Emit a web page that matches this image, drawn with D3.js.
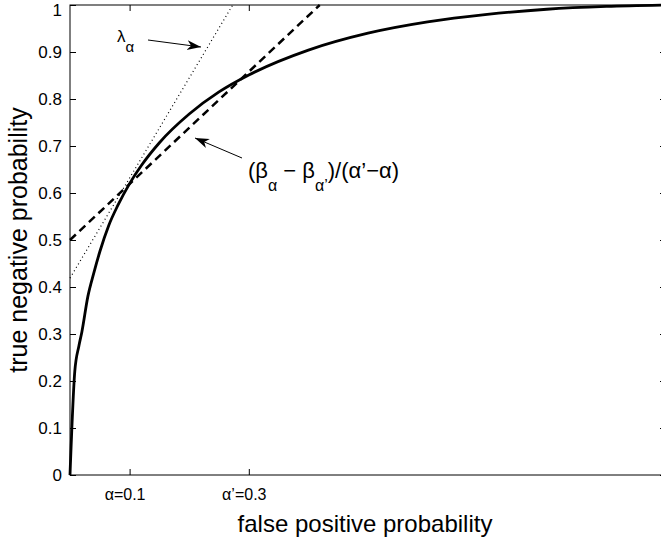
<!DOCTYPE html>
<html>
<head>
<meta charset="utf-8">
<script src="https://cdn.jsdelivr.net/npm/d3@7"></script>
<style>
  body { margin: 0; background: #fff; }
  text { font-family: "Liberation Sans", Arial, Helvetica, sans-serif; }
</style>
</head>
<body>
<div id="chart"></div>
<script>
// ROC curve samples (false positive prob -> true negative prob)
const fpr = [0, 0.008, 0.015, 0.02, 0.03, 0.04, 0.05, 0.065, 0.08, 0.1, 0.12, 0.15, 0.2, 0.25, 0.3, 0.4, 0.5, 0.6, 0.7, 0.8, 0.9, 1];
const tnr = [0, 0.22, 0.275, 0.305, 0.38, 0.43, 0.475, 0.531, 0.573, 0.62, 0.659, 0.707, 0.768, 0.815, 0.851, 0.904, 0.94, 0.964, 0.98, 0.991, 0.997, 1];

// chord between alpha and alpha' (dashed) and tangent at alpha (dotted)
const chordLine = [[0, 0.5], [0.419, 1]];
const tangentLine = [[0, 0.419], [0.273, 1]];

const yTicks = [0, 0.1, 0.2, 0.3, 0.4, 0.5, 0.6, 0.7, 0.8, 0.9, 1];
const xTicks = [0.1, 0.3];
const xTickLabels = ["α=0.1", "α’=0.3"];

const width = 661, height = 542;
const mLeft = 70, mRight = 666, mTop = 5, mBottom = 475;

const svg = d3.select("#chart").append("svg")
  .attr("width", width)
  .attr("height", height);

const x = d3.scaleLinear().domain([0, 1]).range([mLeft, mRight]);
const y = d3.scaleLinear().domain([0, 1]).range([mBottom, mTop]);

// arrow head
svg.append("defs").append("marker")
  .attr("id", "arrow")
  .attr("markerUnits", "userSpaceOnUse")
  .attr("markerWidth", 16).attr("markerHeight", 12)
  .attr("refX", 14).attr("refY", 6)
  .attr("orient", "auto")
  .append("path")
  .attr("d", "M0,1 L14,6 L0,11 L4,6 Z")
  .attr("fill", "#000");

// axes (ticks inward, box around)
svg.append("g")
  .attr("transform", `translate(${mLeft},0)`)
  .call(d3.axisLeft(y).tickValues(yTicks).tickFormat(d3.format("~g"))
    .tickSizeInner(-6).tickSizeOuter(0).tickPadding(8))
  .call(g => g.select(".domain").remove())
  .selectAll("text")
  .style("font-size", "17px").attr("fill", "#000")
  .attr("dy", d => d === 1 ? "0.62em" : "0.32em");

svg.append("g")
  .attr("transform", `translate(${mRight},0)`)
  .call(d3.axisRight(y).tickValues(yTicks).tickFormat("").tickSizeInner(-6).tickSizeOuter(0))
  .call(g => g.select(".domain").remove());

svg.append("g")
  .attr("transform", `translate(0,${mBottom})`)
  .call(d3.axisBottom(x).tickValues(xTicks).tickFormat((d, i) => xTickLabels[i])
    .tickSizeInner(-6).tickSizeOuter(0).tickPadding(14))
  .call(g => g.select(".domain").remove())
  .selectAll("text").style("font-size", "16px").attr("fill", "#000").attr("dx", "-5");

svg.append("g")
  .attr("transform", `translate(0,${mTop})`)
  .call(d3.axisTop(x).tickValues(xTicks).tickFormat("").tickSizeInner(-6).tickSizeOuter(0))
  .call(g => g.select(".domain").remove());

svg.append("rect")
  .attr("x", mLeft).attr("y", mTop)
  .attr("width", mRight - mLeft).attr("height", mBottom - mTop)
  .attr("fill", "none").attr("stroke", "#000").attr("stroke-width", 1);

// lines
const line = d3.line().x(d => x(d[0])).y(d => y(d[1]));

svg.append("path")
  .datum(tangentLine)
  .attr("fill", "none").attr("stroke", "#000")
  .attr("stroke-width", 1.2).attr("stroke-dasharray", "1,3")
  .attr("d", line);

svg.append("path")
  .datum(chordLine)
  .attr("fill", "none").attr("stroke", "#000")
  .attr("stroke-width", 2.5).attr("stroke-dasharray", "8,5")
  .attr("d", line);

svg.append("path")
  .datum(fpr.map((f, i) => [f, tnr[i]]))
  .attr("fill", "none").attr("stroke", "#000")
  .attr("stroke-width", 2.8).attr("stroke-linejoin", "round")
  .attr("d", line.curve(d3.curveMonotoneX));

// annotations
svg.append("line")
  .attr("x1", 148).attr("y1", 40).attr("x2", 201).attr("y2", 47)
  .attr("stroke", "#000").attr("stroke-width", 1).attr("marker-end", "url(#arrow)");

svg.append("line")
  .attr("x1", 242).attr("y1", 158).attr("x2", 195).attr("y2", 138)
  .attr("stroke", "#000").attr("stroke-width", 1).attr("marker-end", "url(#arrow)");

const lam = svg.append("text").attr("x", 117).attr("y", 42).style("font-size", "17px");
lam.append("tspan").text("λ");
lam.append("tspan").attr("dy", 10).style("font-size", "15px").text("α");

const frac = svg.append("text").attr("x", 248).attr("y", 178).style("font-size", "22px");
frac.append("tspan").text("(β");
frac.append("tspan").attr("dy", 13).style("font-size", "16px").text("α");
frac.append("tspan").attr("dy", -13).text(" − β");
frac.append("tspan").attr("dy", 13).style("font-size", "16px").text("α’");
frac.append("tspan").attr("dy", -13).text(")/(α’−α)");

// axis titles
svg.append("text")
  .attr("x", 365).attr("y", 532)
  .attr("text-anchor", "middle")
  .style("font-size", "24px")
  .text("false positive probability");

svg.append("text")
  .attr("transform", "rotate(-90)")
  .attr("x", -240).attr("y", 27)
  .attr("text-anchor", "middle")
  .style("font-size", "25px")
  .text("true negative probability");
</script>
</body>
</html>
